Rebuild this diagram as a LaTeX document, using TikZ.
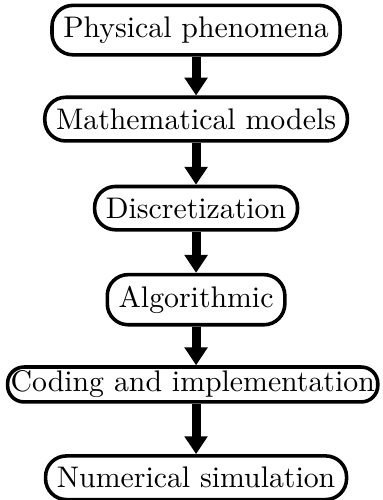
\documentclass[tikz,border=0pt]{standalone}
\usetikzlibrary{arrows.meta}
\tikzset{
  stage/.style={draw,very thick,rounded corners=7pt,inner xsep=3.8pt,inner ysep=3.8pt},
  flow/.style={line width=3pt,-{Triangle[length=6pt,width=7.5pt]}}
}
\begin{document}
\begin{tikzpicture}
                \useasboundingbox (-65.8pt,10.1pt) rectangle (62.7pt,-157.7pt);
                \node[stage] (phys) at (0,0) {Physical phenomena};
                \node[stage] (math) at (0,-1.05) {Mathematical models};
                \node[stage] (disc) at (0,-2.1) {Discretization};
                \node[stage] (algo) at (0,-3.18) {Algorithmic};
                \node[stage,inner xsep=1pt,inner ysep=1.3pt,rounded corners=5.5pt] (code) at (-.04,-4.18) {Coding and implementation};
                \node[stage] (simu) at (0,-5.28) {Numerical simulation};
                \draw[flow] (phys) -- (math);
                \draw[flow] (math) -- (disc);
                \draw[flow] (disc) -- (algo);
                \draw[flow] (algo) -- (code.north-|algo);
                \draw[flow] (code.south-|simu) -- (simu);
            \end{tikzpicture}
\end{document}
